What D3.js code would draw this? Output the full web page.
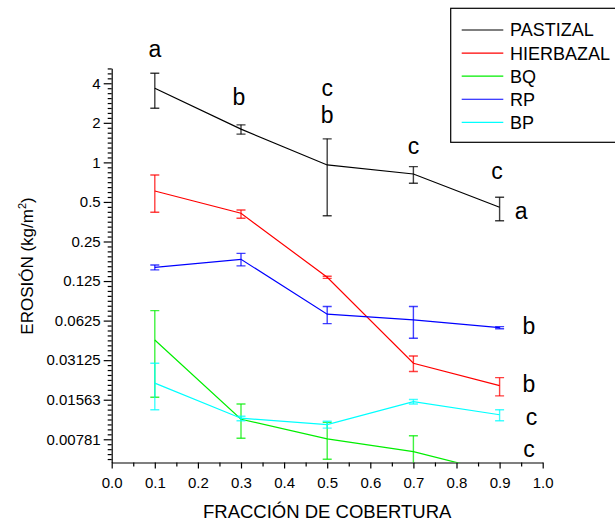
<!DOCTYPE html>
<html>
<head>
<meta charset="utf-8">
<script src="https://cdn.jsdelivr.net/npm/d3@7.9.0/dist/d3.min.js"></script>
<style>
  body { margin: 0; background: #fff; }
  svg { display: block; font-family: "Liberation Sans", Arial, sans-serif; }
</style>
</head>
<body>
<svg id="chart" width="615" height="522"></svg>
<script>
// data (erosion in kg/m2, log2 axis)
const coverage = [0.1, 0.3, 0.5, 0.7, 0.9];

const pastizal   = [3.67, 1.79, 0.956, 0.816, 0.456];
const pastizalLo = [2.58, 1.64, 0.393, 0.694, 0.36];
const pastizalHi = [4.77, 1.93, 1.51, 0.928, 0.543];

const hierbazal   = [0.606, 0.41, 0.1335, 0.0296, 0.0200];
const hierbazalLo = [0.417, 0.376, 0.131, 0.0256, 0.0167];
const hierbazalHi = [0.802, 0.434, 0.136, 0.0336, 0.0230];

const bq   = [0.0445, 0.0111, 0.00786, 0.00629, 0.0043];
const bqLo = [0.0163, 0.00795, 0.0055, 0.0045, 0.0037];
const bqHi = [0.0745, 0.0145, 0.0105, 0.0083, 0.0050];

const rp   = [0.159, 0.183, 0.0700, 0.0634, 0.0552];
const rpLo = [0.152, 0.163, 0.0593, 0.0459, 0.0542];
const rpHi = [0.1655, 0.203, 0.080, 0.080, 0.0562];

const bp   = [0.0209, 0.0113, 0.0101, 0.0151, 0.0120];
const bpLo = [0.0131, 0.0108, 0.0095, 0.0145, 0.0108];
const bpHi = [0.0296, 0.0117, 0.0107, 0.0157, 0.0131];

const seriesNames = ['PASTIZAL', 'HIERBAZAL', 'BQ', 'RP', 'BP'];
const seriesColors = ['#000000', '#ff0000', '#00ee00', '#0000ff', '#00ffff'];

const yTickValues = [4, 2, 1, 0.5, 0.25, 0.125, 0.0625, 0.03125, 0.015625, 0.0078125];
const yTickLabels = ['4', '2', '1', '0.5', '0.25', '0.125', '0.0625', '0.03125', '0.01563', '0.00781'];
const xTickValues = [0, 0.1, 0.2, 0.3, 0.4, 0.5, 0.6, 0.7, 0.8, 0.9, 1.0];

// significance letters: [letter, x, y value of baseline]
const letters = [
  ['a', 0.1, 6.37], ['b', 0.295, 2.73], ['c', 0.5, 3.22], ['b', 0.5, 1.98],
  ['c', 0.7, 1.16], ['c', 0.894, 0.748], ['a', 0.95, 0.371],
  ['b', 0.968, 0.0491], ['b', 0.968, 0.0180], ['c', 0.974, 0.01003], ['c', 0.968, 0.00577]
];

const series = [
  [pastizal, pastizalLo, pastizalHi],
  [hierbazal, hierbazalLo, hierbazalHi],
  [bq, bqLo, bqHi],
  [rp, rpLo, rpHi],
  [bp, bpLo, bpHi]
].map((s, i) => ({
  name: seriesNames[i],
  color: seriesColors[i],
  pts: coverage.map((c, j) => ({ x: c, y: s[0][j], lo: s[1][j], hi: s[2][j] }))
}));

const svg = d3.select('#chart');
const plotLeft = 111.7, plotRight = 542.7, plotTop = 68.3, plotBottom = 462.5;

const x = d3.scaleLinear().domain([0, 1]).range([plotLeft, plotRight]);
const y = d3.scaleLog().base(2).domain([0.0052, 5.2]).range([plotBottom, plotTop]);

svg.append('defs').append('clipPath').attr('id', 'plotclip')
  .append('rect').attr('x', plotLeft).attr('y', plotTop)
  .attr('width', plotRight - plotLeft).attr('height', plotBottom - plotTop);

// y axis: minor ticks then major ticks
let minors = [];
for (let k = -70; k <= 24; k++) {
  const v = Math.pow(2, k / 8);
  if (k % 8 !== 0 && v >= 0.0052 && v <= 5.2) minors.push(v);
}
svg.append('g').attr('transform', `translate(${plotLeft},0)`)
  .call(d3.axisLeft(y).tickValues(minors).tickSize(4).tickFormat(''))
  .call(g => g.select('.domain').remove());

const yAxis = svg.append('g').attr('transform', `translate(${plotLeft},0)`)
  .call(d3.axisLeft(y).tickValues(yTickValues).tickSize(8).tickSizeOuter(0).tickPadding(3)
    .tickFormat((d, i) => yTickLabels[i]));
yAxis.selectAll('text').attr('font-size', 15).attr('fill', '#000');

// x axis
svg.append('g').attr('transform', `translate(0,${plotBottom})`)
  .call(d3.axisBottom(x).tickValues(d3.range(0.05, 1, 0.1)).tickSize(4).tickFormat(''))
  .call(g => g.select('.domain').remove());
const xAxis = svg.append('g').attr('transform', `translate(0,${plotBottom})`)
  .call(d3.axisBottom(x).tickValues(xTickValues).tickSize(6).tickSizeOuter(0).tickPadding(9)
    .tickFormat(d3.format('.1f')));
xAxis.selectAll('text').attr('font-size', 15).attr('fill', '#000');

svg.selectAll('.domain, .tick line').attr('stroke', '#000').attr('stroke-width', 1.2);

// axis titles
svg.append('text').attr('x', x(0.5)).attr('y', 518)
  .attr('text-anchor', 'middle').attr('font-size', 18.5)
  .text('FRACCIÓN DE COBERTURA');

const yt = svg.append('text')
  .attr('transform', 'translate(33,266) rotate(-90)')
  .attr('text-anchor', 'middle').attr('font-size', 17);
yt.append('tspan').text('EROSIÓN (kg/m');
yt.append('tspan').attr('font-size', 11).attr('dy', -7).text('2');
yt.append('tspan').attr('dy', 7).text(')');

// lines and error bars
const plot = svg.append('g').attr('clip-path', 'url(#plotclip)');
const line = d3.line().x(d => x(d.x)).y(d => y(d.y));

series.forEach(s => {
  const g = plot.append('g');
  g.append('path').datum(s.pts).attr('d', line)
    .attr('fill', 'none').attr('stroke', s.color).attr('stroke-width', 1.2);
  const eb = g.selectAll('g.err').data(s.pts).join('g').attr('class', 'err')
    .attr('stroke', s.color).attr('stroke-width', 1.4).attr('stroke-opacity', 0.75);
  eb.append('line').attr('x1', d => x(d.x)).attr('x2', d => x(d.x))
    .attr('y1', d => y(d.lo)).attr('y2', d => y(d.hi));
  eb.append('line').attr('x1', d => x(d.x) - 4.5).attr('x2', d => x(d.x) + 4.5)
    .attr('y1', d => y(d.lo)).attr('y2', d => y(d.lo));
  eb.append('line').attr('x1', d => x(d.x) - 4.5).attr('x2', d => x(d.x) + 4.5)
    .attr('y1', d => y(d.hi)).attr('y2', d => y(d.hi));
});

// significance letters
svg.selectAll('text.letter').data(letters).join('text').attr('class', 'letter')
  .attr('x', d => x(d[1])).attr('y', d => y(d[2]))
  .attr('text-anchor', 'middle').attr('font-size', 23)
  .text(d => d[0]);

// legend
const legend = svg.append('g');
legend.append('rect').attr('x', 450.7).attr('y', 8.3).attr('width', 180).attr('height', 134)
  .attr('fill', '#fff').attr('stroke', '#000').attr('stroke-width', 1.2);
const rowY = d3.scaleLinear().domain([0, 4]).range([30, 122.3]);
series.forEach((s, i) => {
  legend.append('line').attr('x1', 461.7).attr('x2', 503.3)
    .attr('y1', rowY(i)).attr('y2', rowY(i))
    .attr('stroke', s.color).attr('stroke-width', 1.2);
  legend.append('text').attr('x', 510).attr('y', rowY(i)).attr('dy', '0.36em')
    .attr('font-size', 18).text(s.name);
});
</script>
</body>
</html>
